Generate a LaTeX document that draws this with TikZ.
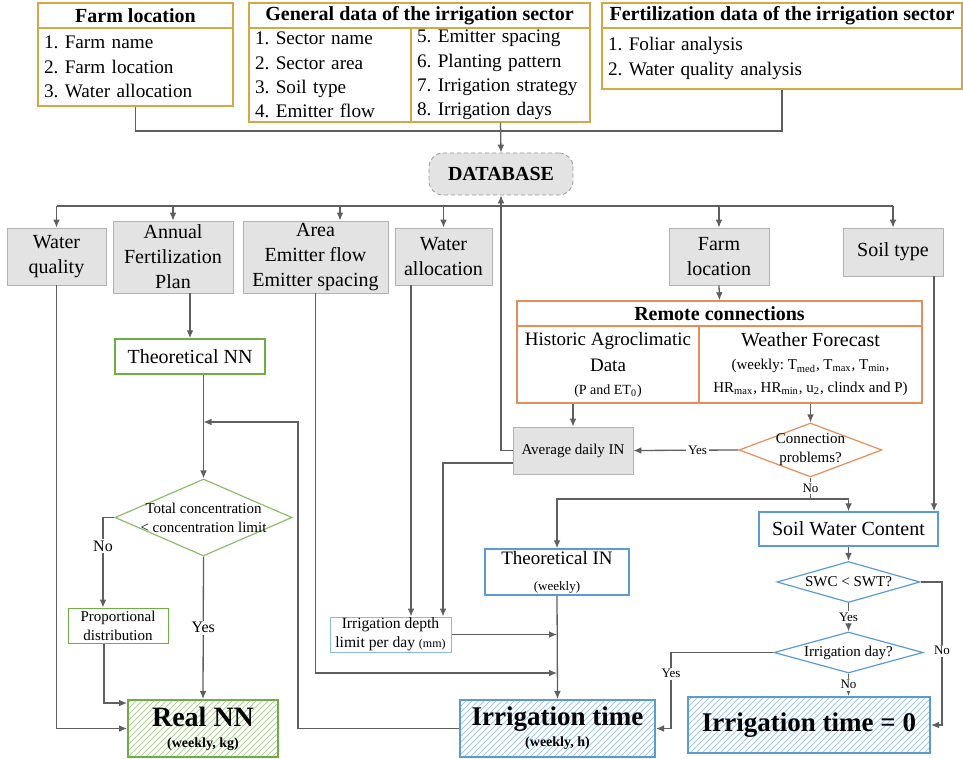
\documentclass[tikz,border=0pt]{standalone}
\usepackage{fontspec}
\setmainfont{Liberation Serif}
\usetikzlibrary{arrows.meta, shapes.geometric, patterns}

\definecolor{goldc}{RGB}{212,168,70}
\definecolor{orangec}{RGB}{230,142,90}
\definecolor{greenc}{RGB}{112,173,71}
\definecolor{bluec}{RGB}{91,155,213}
\definecolor{linec}{RGB}{95,95,95}

\begin{document}
\frenchspacing
\begin{tikzpicture}[x=0.5pt, y=-0.5pt, >={Latex[length=4pt,width=3.4pt]},
	line/.style={draw=linec, line width=0.65pt},
	head/.style={draw=goldc, line width=0.75pt, inner sep=0pt, minimum height=12.5pt, font=\fontsize{10}{12}\selectfont\bfseries},
	items/.style={draw=goldc, line width=0.75pt, align=left, inner xsep=3pt, inner ysep=0pt, font=\fontsize{9.6}{12.2}\selectfont},
	data/.style={draw=black!30, fill=black!11, inner sep=0pt, align=center, font=\fontsize{10}{12.5}\selectfont},
	remote/.style={draw=orangec, line width=0.75pt, inner sep=0pt, align=center},
	nnbox/.style={draw=greenc, line width=0.75pt, inner sep=0pt, align=center},
	inbox/.style={draw=bluec, line width=0.75pt, inner sep=0pt, align=center},
	check/.style={diamond, inner sep=-4pt, line width=0.6pt, align=center, font=\fontsize{7.5}{9.5}\selectfont},
	result/.style={line width=1pt, inner sep=0pt, align=center},
	tag/.style={fill=white, inner sep=0.8pt, font=\fontsize{6.5}{7}\selectfont}]

	\useasboundingbox (0,0) rectangle (963,759);

	% input tables of the sector
	\node[head, minimum width=97.5pt] (farmT) at (135.5,15.5) {Farm location};
	\node[items, text width=91.5pt, minimum height=39pt] (farmB) at (135.5,67) {1. Farm name\\2. Farm location\\3. Water allocation};
	\node[head, minimum width=170.5pt] (genT) at (419.5,15.5) {General data of the irrigation sector};
	\node[items, text width=75pt, minimum height=47pt] (genL) at (330,75) {1. Sector name\\2. Sector area\\3. Soil type\\4. Emitter flow};
	\node[items, text width=83.5pt, minimum height=47pt] (genR) at (500.5,75) {5. Emitter spacing\\6. Planting pattern\\7. Irrigation strategy\\8. Irrigation days};
	\node[head, minimum width=180pt] (fertT) at (782,15.5) {Fertilization data of the irrigation sector};
	\node[items, text width=174pt, minimum height=30.5pt] (fertB) at (782,58.5) {1. Foliar analysis\\2. Water quality analysis};

	\node[data, draw=black!40, dash pattern=on 2pt off 1.5pt, rounded corners=7pt, minimum width=72pt, minimum height=21pt, font=\fontsize{10}{12}\selectfont\bfseries] (db) at (501,174) {DATABASE};

	\coordinate (merge) at (501,131);
	\coordinate (bus) at (501,206);
	\draw[line] (farmB.south) |- (merge) -| (fertB.south);
	\draw[line,->] (genR.south) -- (db.north);

	% data taken from the database
	\node[data, minimum width=49.5pt, minimum height=28.5pt] (wq) at (56.5,256.5) {Water\\quality};
	\node[data, minimum width=60pt, minimum height=36pt] (afp) at (173,257) {Annual\\Fertilization\\Plan};
	\node[data, minimum width=72.5pt, minimum height=36pt] (area) at (315.5,257) {Area\\Emitter flow\\Emitter spacing};
	\node[data, minimum width=48.5pt, minimum height=28.5pt] (wa) at (443.5,256.5) {Water\\allocation};
	\node[data, minimum width=50pt, minimum height=28.5pt] (fl) at (719,256.5) {Farm\\location};
	\node[data, minimum width=50pt, minimum height=24pt] (st) at (893,252) {Soil type};

	\draw[line] (wq.north |- bus) -- (st.north |- bus);
	\foreach \n in {wq,afp,wa,fl,st}
		\draw[line,->] (\n.north |- bus) -- (\n.north);
	\coordinate (areaIn) at ([xshift=12.25pt]area.north);
	\draw[line,->] (areaIn |- bus) -- (areaIn);

	% remote connections
	\node[remote, minimum width=202.5pt, minimum height=12.5pt, font=\fontsize{10}{12}\selectfont\bfseries] (rcT) at (719.5,313.5) {Remote connections};
	\node[remote, minimum width=91pt, minimum height=38.5pt, font=\fontsize{9.5}{13}\selectfont] (rcL) at (608,364.5) {Historic Agroclimatic\\Data\\[-1.5pt]{\fontsize{7}{9}\selectfont (P and ET\textsubscript{0})}};
	\node[remote, minimum width=111.5pt, minimum height=38.5pt, font=\fontsize{10}{11.5}\selectfont] (rcR) at (810.5,364.5) {Weather Forecast\\{\fontsize{7.5}{9.5}\selectfont (weekly: T\textsubscript{med}, T\textsubscript{max}, T\textsubscript{min},}\\{\fontsize{7.5}{9.5}\selectfont HR\textsubscript{max}, HR\textsubscript{min}, u\textsubscript{2}, clindx and P)}};
	\draw[line,->] (fl.south) -- (rcT.north);

	\node[data, minimum width=60pt, minimum height=23.5pt, font=\fontsize{7.5}{9}\selectfont] (avg) at (573,450.5) {Average daily IN};
	\node[check, draw=orangec, aspect=2.65, minimum width=71.5pt, minimum height=27pt] (cp) at (810.5,450) {Connection\\problems?};
	\draw[line,->] (avg.north |- rcL.south) -- (avg.north);
	\draw[line,->] (rcR.south) -- (cp.north);
	\draw[line,->] (cp.west) -- node[tag, pos=0.39] {Yes} (avg.east);
	\draw[line,->] (avg.west) -| (db.south);

	% irrigation branch
	\node[inbox, minimum width=89.5pt, minimum height=17pt, font=\fontsize{10}{12}\selectfont] (swc) at (848.5,529) {Soil Water Content};
	\node[inbox, minimum width=72pt, minimum height=23pt, font=\fontsize{9.5}{13}\selectfont] (tin) at (557,572) {Theoretical IN\\{\fontsize{6.5}{8}\selectfont (weekly)}};
	\coordinate (noSplit) at (810.5,499);
	\draw[line] (cp.south) -- node[tag] {No} (noSplit);
	\draw[line,->] (noSplit) -| (swc.north);
	\draw[line,->] (noSplit) -| (tin.north);
	\coordinate (stOut) at ([xshift=20.5pt]st.south);
	\draw[line,->] (stOut) -- (stOut |- swc.north);

	\node[check, draw=bluec, aspect=3.5, minimum width=71.5pt, minimum height=20.5pt] (swt) at (848.5,582) {SWC < SWT?};
	\node[check, draw=bluec, aspect=3.6, minimum width=74.5pt, minimum height=20.5pt] (iday) at (848.5,652.5) {Irrigation day?};
	\draw[line,->] (swc.south) -- (swt.north);
	\draw[line,->] (swt.south) -- node[tag] {Yes} (iday.north);

	\node[inbox, result, pattern=north east lines, pattern color=bluec!55, minimum width=121pt, minimum height=28pt, font=\fontsize{13.5}{16}\selectfont\bfseries] (it0) at (809,725) {Irrigation time = 0};
	\node[inbox, result, pattern=north east lines, pattern color=bluec!55, minimum width=97.5pt, minimum height=28.5pt] (itime) at (557.5,728.5) {{\fontsize{13.5}{15}\selectfont\bfseries Irrigation time}\\[-1.5pt]{\fontsize{7}{9}\selectfont\bfseries (weekly, h)}};

	\coordinate (noR) at (942,582);
	\draw[line,->] (swt.east) -- (noR) |- node[tag, pos=0.24] {No} (it0.east);
	\draw[line,->] (iday.south) -- node[tag] {No} (iday.south |- it0.north);
	\coordinate (yesL) at (671,652.5);
	\draw[line,->] (iday.west) -- (yesL) |- node[tag, pos=0.14] {Yes} (itime.east);
	\draw[line,->] (tin.south) -- (itime.north);

	\node[inbox, draw=bluec!70, line width=0.5pt, minimum width=60.5pt, minimum height=17.5pt, font=\fontsize{7.8}{9.5}\selectfont] (idl) at (390.5,634.5) {Irrigation depth\\limit per day {\fontsize{6}{7}\selectfont(mm)}};
	\coordinate (waOut) at ([xshift=-16.25pt]wa.south);
	\coordinate (avgOut) at ([yshift=-6.25pt]avg.west);
	\coordinate (idlIn) at ([xshift=26.25pt]idl.north);
	\coordinate (areaEnd) at (557,673);
	\draw[line,->] (waOut) -- (waOut |- idl.north);
	\draw[line,->] (avgOut) -| (idlIn);
	\draw[line,->] (idl.east) -- (idl.east -| tin.south);
	\draw[line,->] (area.south) |- (areaEnd);

	% fertilization branch
	\node[nnbox, minimum width=75pt, minimum height=17.5pt, font=\fontsize{10}{12}\selectfont] (tnn) at (190,356.5) {Theoretical NN};
	\node[check, draw=greenc!80, aspect=2.3, minimum width=88.5pt, minimum height=38.5pt, inner sep=-8pt] (tc) at (203.5,517.5) {Total concentration\\< concentration limit};
	\node[nnbox, line width=0.5pt, minimum width=50pt, minimum height=17.5pt, font=\fontsize{7.5}{9.5}\selectfont] (prop) at (118,625.5) {Proportional\\distribution};
	\node[nnbox, result, pattern=north east lines, pattern color=greenc!55, minimum width=75pt, minimum height=28.5pt] (rnn) at (203,728.5) {{\fontsize{14}{15}\selectfont\bfseries Real NN}\\[-1.5pt]{\fontsize{7}{9}\selectfont\bfseries (weekly, kg)}};

	\draw[line,->] (tnn.north |- afp.south) -- (tnn.north);
	\draw[line,->] (tc.north |- tnn.south) -- (tc.north);
	\coordinate (propIn) at ([xshift=-7.5pt]prop.north);
	\coordinate (propOut) at ([xshift=-7pt]prop.south);
	\draw[line,->] (tc.west) -| node[tag, pos=0.66, font=\fontsize{8}{9}\selectfont] {No} (propIn);
	\draw[line,->] (propOut) |- ([yshift=-2pt]rnn.north west);
	\draw[line,->] (wq.south) |- (rnn.west);
	\draw[line,->] (tc.south) -- node[tag, font=\fontsize{8}{9}\selectfont] {Yes} (rnn.north);
	\coordinate (fbTop) at (298,422);
	\draw[line,->] (itime.west) -| (fbTop) -- (fbTop -| tc.north);

\end{tikzpicture}
\end{document}
